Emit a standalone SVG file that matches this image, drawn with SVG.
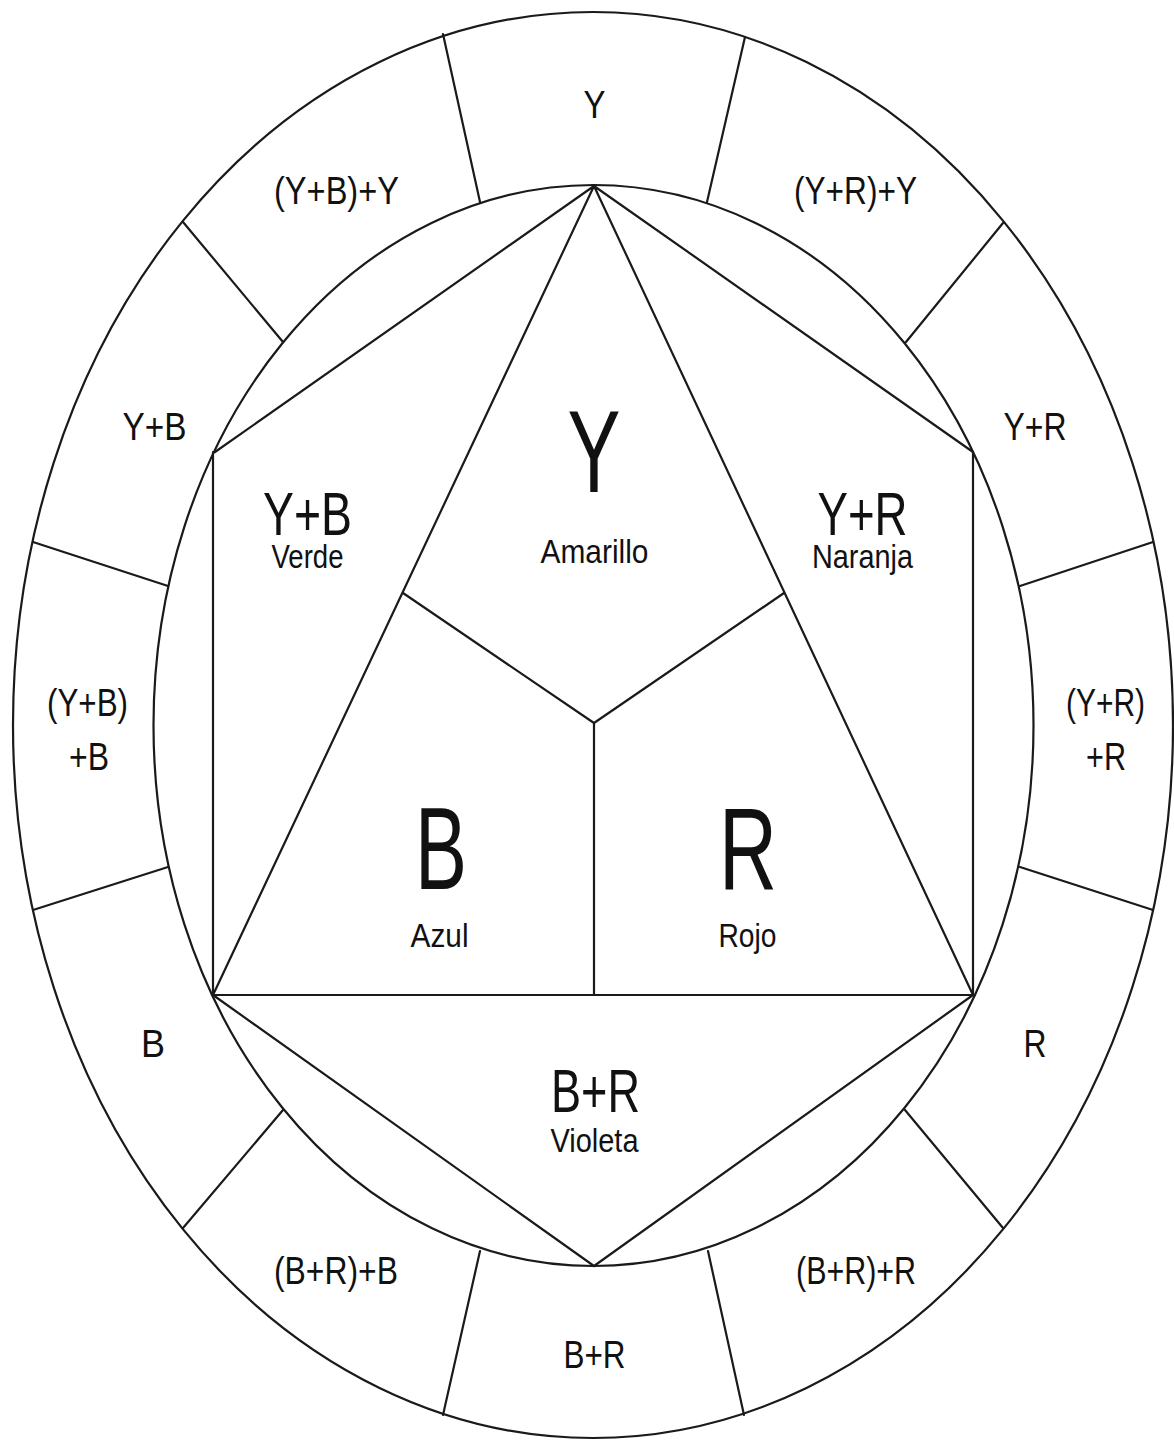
<svg xmlns="http://www.w3.org/2000/svg" width="1174" height="1441" viewBox="0 0 1174 1441">
<style>
.ln{fill:none;stroke:#1a1a1a;stroke-width:2.2;stroke-linecap:round;stroke-linejoin:round}
.t{font-family:"Liberation Sans",Arial,sans-serif;fill:#111;text-anchor:middle}
.o{font-size:38px}
.big{font-size:117px}
.mid{font-size:61px}
.sub{font-size:34px}
</style>
<rect width="1174" height="1441" fill="#ffffff"/>
<g id="rings">
<ellipse class="ln" cx="593" cy="725" rx="580" ry="713"/>
<ellipse class="ln" cx="593.5" cy="725.5" rx="440" ry="540.5"/>
</g>
<g id="connectors">
<path class="ln" d="M443,34 L480,202 M745,37 L707,202 M183,222 L283,342 M1003,223 L906,342 M33,542 L168,586 M33,910 L168,867 M1153,542 L1020,586 M1153,910 L1020,867 M283,1110 L183,1228 M905,1110 L1003,1228 M480,1251 L443,1415 M708,1251 L744,1415"/>
<path class="ln" d="M594,186 L215,452 M594,186 L973,452 M594,186 L213,995 M594,186 L973,995 M213,995 L973,995 M213,452 L213,995 M973,452 L973,995 M213,995 L594,1266 M973,995 L594,1266 M403,593 L594,723 L784,593 M594,723 L594,995"/>
</g>
<g id="outer-labels">
<g id="o-Y"><text class="t o" x="594.5" y="118" textLength="22" lengthAdjust="spacingAndGlyphs">Y</text></g>
<g id="o-YR-Y"><text class="t o" x="855.5" y="204" textLength="123" lengthAdjust="spacingAndGlyphs">(Y+R)+Y</text></g>
<g id="o-YR"><text class="t o" x="1035" y="440" textLength="63" lengthAdjust="spacingAndGlyphs">Y+R</text></g>
<g id="o-YR-R"><text class="t o" x="1105.5" y="716" textLength="79" lengthAdjust="spacingAndGlyphs">(Y+R)</text><text class="t o" x="1106" y="770" textLength="40" lengthAdjust="spacingAndGlyphs">+R</text></g>
<g id="o-R"><text class="t o" x="1035" y="1057" textLength="23" lengthAdjust="spacingAndGlyphs">R</text></g>
<g id="o-BR-R"><text class="t o" x="856" y="1284" textLength="120" lengthAdjust="spacingAndGlyphs">(B+R)+R</text></g>
<g id="o-BR"><text class="t o" x="594.5" y="1368" textLength="62" lengthAdjust="spacingAndGlyphs">B+R</text></g>
<g id="o-BR-B"><text class="t o" x="336" y="1284" textLength="124" lengthAdjust="spacingAndGlyphs">(B+R)+B</text></g>
<g id="o-B"><text class="t o" x="153" y="1057" textLength="24" lengthAdjust="spacingAndGlyphs">B</text></g>
<g id="o-YB-B"><text class="t o" x="87.5" y="716" textLength="81" lengthAdjust="spacingAndGlyphs">(Y+B)</text><text class="t o" x="89" y="770" textLength="40" lengthAdjust="spacingAndGlyphs">+B</text></g>
<g id="o-YB"><text class="t o" x="154.5" y="440" textLength="64" lengthAdjust="spacingAndGlyphs">Y+B</text></g>
<g id="o-YB-Y"><text class="t o" x="336.5" y="204" textLength="125" lengthAdjust="spacingAndGlyphs">(Y+B)+Y</text></g>
</g>
<g id="inner-labels">
<g id="i-Y"><text class="t big" x="594" y="492" textLength="53" lengthAdjust="spacingAndGlyphs">Y</text><text class="t sub" x="594.5" y="563" textLength="108" lengthAdjust="spacingAndGlyphs">Amarillo</text></g>
<g id="i-YB"><text class="t mid" x="307.5" y="535" textLength="89" lengthAdjust="spacingAndGlyphs">Y+B</text><text class="t sub" x="307.5" y="568" textLength="72" lengthAdjust="spacingAndGlyphs">Verde</text></g>
<g id="i-YR"><text class="t mid" x="862.5" y="535" textLength="90" lengthAdjust="spacingAndGlyphs">Y+R</text><text class="t sub" x="862.5" y="568" textLength="101" lengthAdjust="spacingAndGlyphs">Naranja</text></g>
<g id="i-B"><text class="t big" x="441" y="889" textLength="52" lengthAdjust="spacingAndGlyphs">B</text><text class="t sub" x="439.5" y="947" textLength="58" lengthAdjust="spacingAndGlyphs">Azul</text></g>
<g id="i-R"><text class="t big" x="748" y="889" textLength="58" lengthAdjust="spacingAndGlyphs">R</text><text class="t sub" x="747.5" y="947" textLength="58" lengthAdjust="spacingAndGlyphs">Rojo</text></g>
<g id="i-BR"><text class="t mid" x="595.5" y="1112" textLength="89" lengthAdjust="spacingAndGlyphs">B+R</text><text class="t sub" x="594.5" y="1152" textLength="88" lengthAdjust="spacingAndGlyphs">Violeta</text></g>
</g>
</svg>
